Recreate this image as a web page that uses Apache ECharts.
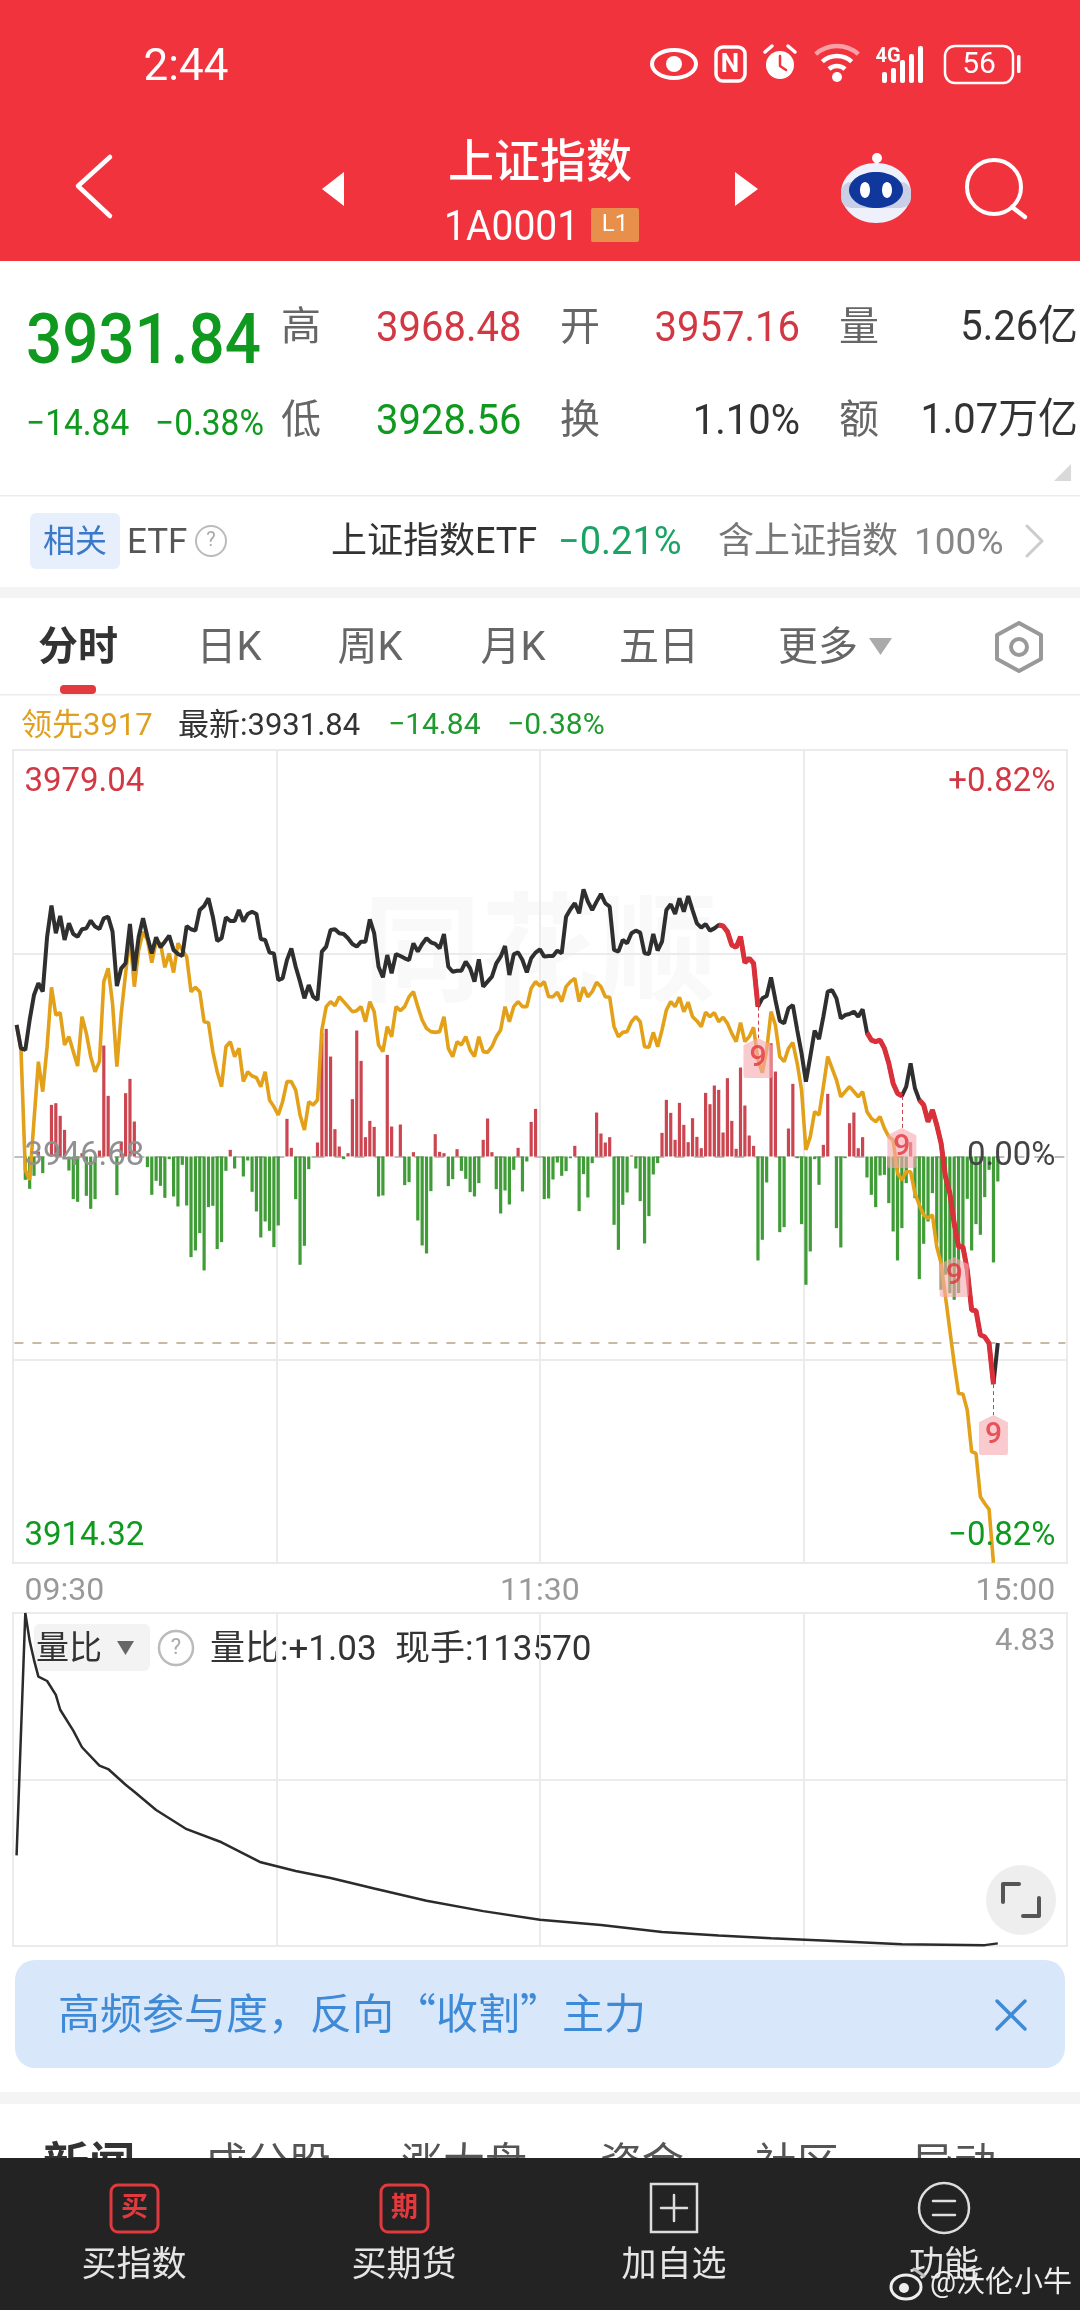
<!DOCTYPE html>
<html>
<head>
<meta charset="utf-8">
<style>html,body{margin:0;padding:0;background:#fff}#main{width:1080px;height:2310px}</style>
<script src="https://cdn.jsdelivr.net/npm/echarts@6/dist/echarts.min.js"></script>
</head>
<body>
<div id="main"></div>
<script>
// index level per minute (09:30 = 0)
var closePrice = [
3957.15,3955.29,3955.16,3957.55,3959.54,3960.47,3959.80,3964.18,3966.65,3964.45,
3965.83,3963.92,3965.24,3964.39,3964.18,3964.77,3964.84,3965.46,3964.98,3964.79,
3965.64,3965.77,3964.58,3960.25,3961.66,3962.06,3965.19,3961.47,3964.18,3965.64,
3964.18,3962.85,3964.13,3963.33,3963.78,3964.26,3963.12,3962.80,3962.64,3965.03,
3964.77,3964.66,3966.30,3966.62,3967.23,3965.77,3963.84,3964.05,3965.72,3965.43,
3965.43,3966.30,3965.38,3965.99,3966.17,3965.99,3964.00,3963.92,3962.91,3962.85,
3960.73,3960.86,3962.32,3963.25,3961.79,3960.60,3959.27,3960.33,3959.40,3959.14,
3962.99,3963.39,3964.71,3964.77,3964.45,3964.39,3964.05,3963.60,3963.39,3963.78,
3963.78,3965.56,3964.45,3961.79,3960.94,3962.72,3961.26,3962.80,3962.64,3962.46,
3962.32,3963.65,3962.99,3963.60,3964.05,3963.73,3963.60,3963.25,3964.39,3961.79,
3961.39,3961.47,3961.47,3962.19,3961.66,3960.60,3962.38,3960.20,3960.60,3961.00,
3962.06,3962.59,3963.44,3961.13,3962.77,3962.93,3962.32,3961.34,3962.46,3962.91,
3963.17,3962.59,3962.64,3962.64,3963.07,3962.85,3965.77,3966.36,3966.84,3966.04,
3967.95,3966.97,3966.30,3966.97,3967.58,3966.84,3966.57,3963.12,3962.99,3963.92,
3963.65,3964.45,3964.66,3964.50,3962.85,3962.80,3964.39,3963.07,3963.78,3966.30,
3966.76,3965.99,3967.23,3966.17,3967.42,3966.30,3965.24,3964.90,3965.19,3964.66,
3964.84,3965.11,3965.03,3964.58,3963.52,3963.33,3964.18,3962.11,3962.46,3962.06,
3958.61,3959.27,3959.46,3960.94,3959.14,3957.49,3957.28,3958.48,3958.74,3956.75,
3954.89,3952.64,3954.63,3956.70,3956.03,3957.81,3959.80,3959.93,3959.27,3957.68,
3957.94,3958.02,3958.21,3957.81,3958.40,3956.54,3955.95,3955.82,3955.95,3955.29,
3954.10,3952.50,3951.71,3951.50,3952.24,3954.10,3952.11,3951.18,3950.78,3949.45,
3950.38,3949.19,3947.73,3945.07,3943.75,3941.36,3939.50,3939.50,3937.64,3934.46,
3934.40,3932.47,3932.33,3931.80,3928.56,3931.84
];
// leading index (领先)
var leadPrice = [
3957.15,3955.29,3945.60,3944.81,3949.58,3954.23,3951.84,3955.42,3960.15,3957.94,
3958.13,3955.56,3956.22,3955.03,3953.88,3957.81,3956.48,3954.63,3953.43,3954.23,
3960.60,3961.66,3958.87,3953.83,3958.08,3961.26,3964.18,3960.20,3963.12,3964.58,
3963.92,3962.11,3963.78,3963.65,3961.74,3962.85,3961.32,3963.65,3963.12,3962.59,
3959.80,3960.15,3959.80,3957.41,3957.33,3955.03,3953.43,3952.24,3955.42,3955.82,
3954.63,3955.29,3952.64,3953.43,3953.09,3952.96,3952.24,3953.43,3951.18,3950.65,
3949.98,3951.04,3952.64,3952.64,3951.97,3949.98,3948.79,3951.04,3950.78,3951.18,
3956.75,3958.61,3959.01,3958.69,3959.40,3959.01,3958.61,3958.21,3958.29,3958.61,
3957.41,3959.01,3958.21,3955.56,3955.03,3957.02,3956.22,3958.61,3958.29,3958.61,
3959.40,3959.80,3958.61,3957.55,3956.88,3956.62,3956.56,3956.62,3957.81,3955.29,
3954.63,3955.82,3955.56,3956.22,3955.16,3954.63,3956.22,3955.03,3954.97,3955.42,
3956.22,3956.75,3958.61,3957.41,3958.61,3959.01,3958.61,3958.61,3960.07,3960.60,
3960.25,3960.60,3959.40,3959.40,3959.75,3959.01,3960.20,3960.60,3960.86,3959.01,
3960.15,3959.40,3959.80,3960.55,3960.20,3959.40,3959.35,3957.02,3956.22,3956.56,
3956.62,3957.41,3957.81,3957.41,3955.42,3955.37,3956.56,3955.42,3956.75,3958.34,
3959.01,3958.61,3959.35,3958.21,3958.95,3957.81,3957.47,3957.02,3958.16,3957.81,
3958.13,3957.41,3957.76,3957.28,3956.48,3955.82,3957.33,3955.82,3956.22,3956.96,
3954.36,3953.35,3955.16,3958.21,3957.15,3954.63,3954.23,3955.29,3955.74,3954.10,
3951.97,3947.20,3948.26,3950.25,3949.98,3952.24,3954.63,3953.70,3952.77,3951.44,
3951.84,3952.24,3951.84,3951.44,3951.84,3950.25,3949.72,3949.45,3949.85,3948.92,
3948.26,3947.99,3945.34,3944.81,3945.47,3945.47,3943.75,3942.82,3942.02,3941.76,
3942.02,3939.50,3938.17,3935.52,3932.86,3930.21,3927.82,3927.77,3926.49,3923.18,
3923.04,3919.59,3919.06,3918.59,3914.34
];
// net volume per minute, unlabelled scale in the picture
var netBars = [
0,0,-70,-97,-58,15,-50,0,155,160,
122,80,-42,-128,-136,10,-118,-157,-128,18,
333,182,0,-116,45,190,233,105,0,0,
-32,-115,-73,-88,-124,-8,-120,-150,-25,-147,
-302,-282,-230,-342,-152,-148,-278,-257,-43,20,
-36,0,-60,-12,-106,-165,-243,-195,-223,-272,
-207,0,113,26,-128,-325,-268,-38,-3,42,
370,383,300,82,30,-8,10,172,378,287,
58,107,89,-120,-117,305,90,0,96,-86,
-77,13,-192,-267,-291,-104,67,14,10,-89,
-68,22,-43,-67,-107,-120,-80,50,114,13,
-98,-171,-102,-144,-40,26,-105,-15,104,143,
0,-128,-126,-69,-18,-58,-44,-5,32,-164,
-53,-123,-20,132,69,42,58,-205,-280,-145,
-108,3,-36,-134,-261,-179,-54,-20,71,170,
131,50,161,95,43,115,59,25,191,157,
213,200,72,235,107,23,267,153,63,32,
-312,-250,-78,340,255,-227,-212,84,218,-5,
-203,-385,-285,-8,-85,35,188,0,-215,-273,
-5,100,132,25,58,-63,-115,-152,-57,-55,
-140,-225,-312,-215,-80,43,-125,-368,-262,-195,
-110,-260,-400,-355,-410,-430,-410,-270,-127,-282,
-203,-235,-122,-40,-318,-75
];
// 量比 curve
var ratioMinute = [0,2,3,4,5,7,9,10,13,15,19,21,25,27,32,39,47,56,64,72,82,94,107,120,134,148,161,173,186,203,222,225];
var ratioValue = [2.05,4.83,4.51,4.29,4.10,4.05,3.89,3.72,3.48,3.29,3.08,3.04,2.86,2.78,2.57,2.35,2.20,1.97,1.87,1.79,1.67,1.53,1.41,1.31,1.25,1.17,1.13,1.10,1.07,1.03,1.02,1.04];
// minutes where the line is drawn red
var signalRanges = [[161,170],[195,203],[207,215],[216,224]];
// "9" tags
var tagMinute = [170,203,215,224];
var tagPrice = [3954.52,3947.36,3937.09,3924.50];
var tagLeader = [true,true,false,true];

var timeLabels = {0:'09:30',120:'11:30',240:'15:00'};
var priceTicks = [3914.32,3946.68,3979.04];
var priceLabels = ['3914.32','3946.68','3979.04'];
var pctTicks = [-0.82,0,0.82];
var pctLabels = ['−0.82%','0.00%','+0.82%'];

var FONT = 'Roboto, "Noto Sans CJK SC", sans-serif';
var CJK = '"Noto Sans CJK SC", sans-serif';
var RED = '#d23843', GREEN = '#0f991f', GREY = '#919191', DARK = '#333333';

var minutes = [];
for (var m = 0; m <= 240; m++) minutes.push(m);

var signalData = closePrice.map(function (v, i) {
  return signalRanges.some(function (r) { return i >= r[0] && i <= r[1]; }) ? v : null;
});
var leaders = [];
tagMinute.forEach(function (m, i) {
  if (tagLeader[i]) leaders.push([{ coord: [m, closePrice[m]] }, { coord: [m, tagPrice[i] + 1.6] }]);
});

// ---- page furniture
var g = [];
// y is where the middle of the glyphs should sit, text baseline box runs a bit high
function txt(x, y, s, size, color, align, weight, sx, family) {
  g.push({ type: 'text', x: x, y: y + size * 0.09, scaleX: sx || 1, style: { text: s, font: (weight || 400) + ' ' + size + 'px ' + (family || FONT), fill: color, textAlign: align || 'left', textVerticalAlign: 'middle' } });
}
// text sitting inside a badge or icon
function badge(x, y, s, size, color, weight) {
  g.push({ type: 'text', x: x, y: y, style: { text: s, font: (weight || 400) + ' ' + size + 'px ' + FONT, fill: color, textAlign: 'center', textVerticalAlign: 'middle' } });
}
function rect(x, y, w, h, fill, r, stroke, lw) {
  g.push({ type: 'rect', shape: { x: x, y: y, width: w, height: h, r: r || 0 }, style: { fill: fill || 'none', stroke: stroke || 'none', lineWidth: lw || 0 } });
}
function circ(x, y, r, fill, stroke, lw) {
  g.push({ type: 'circle', shape: { cx: x, cy: y, r: r }, style: { fill: fill || 'none', stroke: stroke || 'none', lineWidth: lw || 0 } });
}
function pline(pts, stroke, lw) {
  g.push({ type: 'polyline', shape: { points: pts }, style: { fill: 'none', stroke: stroke, lineWidth: lw, lineCap: 'round', lineJoin: 'round' } });
}
function pgon(pts, fill) {
  g.push({ type: 'polygon', shape: { points: pts }, style: { fill: fill } });
}

// watermark behind the plot
txt(540, 952, '同花顺', 118, 'rgba(0,0,0,0.022)', 'center', 700);

// header
rect(0, 0, 1080, 261, '#f1333e');
txt(186, 65, '2:44', 44, '#fff', 'center');
g.push({ type: 'ellipse', shape: { cx: 674, cy: 64, rx: 22, ry: 14 }, style: { fill: 'none', stroke: '#fff', lineWidth: 4 } });
circ(674, 64, 8, '#fff');
rect(716, 47, 29, 34, 'none', 7, '#fff', 3.5);
badge(730, 65, 'N', 26, '#fff', 700);
circ(780, 65, 14, '#fff');
pline([[780, 56], [780, 66], [786, 70]], '#f1333e', 2.5);
pline([[765, 52], [772, 46]], '#fff', 3.5);
pline([[788, 46], [795, 52]], '#fff', 3.5);
g.push({ type: 'arc', shape: { cx: 837, cy: 78, r: 32, startAngle: -2.3, endAngle: -0.84 }, style: { fill: 'none', stroke: '#f8a0a6', lineWidth: 4.5 } });
g.push({ type: 'arc', shape: { cx: 837, cy: 78, r: 22, startAngle: -2.3, endAngle: -0.84 }, style: { fill: 'none', stroke: '#fff', lineWidth: 4.5 } });
g.push({ type: 'arc', shape: { cx: 837, cy: 78, r: 12, startAngle: -2.3, endAngle: -0.84 }, style: { fill: 'none', stroke: '#fff', lineWidth: 4.5 } });
circ(837, 77, 5, '#fff');
badge(888, 57, '4G', 20, '#fff', 700);
[[882, 72, 11], [891, 68, 15], [900, 60, 23], [909, 54, 29], [918, 46, 37]].forEach(function (b) { rect(b[0], b[1], 5, b[2], '#fff', 2); });
rect(945, 46, 68, 37, 'none', 10, '#fff', 2.5);
badge(979, 65, '56', 30, '#fff');
rect(1017, 55, 3.5, 18, '#fff', 1.5);

pline([[110, 157], [78, 186], [110, 216]], '#fff', 4.5);
pgon([[344, 172], [322, 189], [344, 206]], '#fff');
pgon([[735, 172], [758, 189], [735, 206]], '#fff');
txt(540, 161, '上证指数', 46, '#fff', 'center', 500);
txt(444, 226, '1A0001', 42, '#fff', 'left', 400, 0.93);
rect(591, 208, 48, 34, '#e88f4b', 2);
badge(615, 225, 'L1', 24, '#fff');
// robot
circ(877, 158, 5, '#fff');
pline([[877, 158], [876, 170]], '#fff', 4);
g.push({ type: 'ellipse', shape: { cx: 876, cy: 193, rx: 35, ry: 30 }, style: { fill: '#eef1fb' } });
rect(841, 182, 70, 26, '#c8cfe6', 10);
g.push({ type: 'ellipse', shape: { cx: 876, cy: 190, rx: 27, ry: 18 }, style: { fill: '#10379c' } });
g.push({ type: 'ellipse', shape: { cx: 865, cy: 190, rx: 5, ry: 8 }, style: { fill: '#fff' } });
g.push({ type: 'ellipse', shape: { cx: 887, cy: 190, rx: 5, ry: 8 }, style: { fill: '#fff' } });
circ(994, 187, 27, 'none', '#fff', 4);
pline([[1012, 207], [1025, 217]], '#fff', 4.5);

// quote block
txt(26, 339, '3931.84', 70, GREEN, 'left', 500, 0.91);
txt(26, 423, '−14.84', 36, GREEN, 'left', 400, 0.93);
txt(155, 423, '−0.38%', 36, GREEN, 'left', 400, 0.93);
var quoteRows = [
  [326, '高', '3968.48', RED, '开', '3957.16', RED, '量', '5.26亿'],
  [419, '低', '3928.56', GREEN, '换', '1.10%', DARK, '额', '1.07万亿']
];
quoteRows.forEach(function (r) {
  txt(301, r[0], r[1], 40, '#666', 'center');
  txt(376, r[0], r[2], 43, r[3], 'left', 400, 0.93);
  txt(580, r[0], r[4], 40, '#666', 'center');
  txt(800, r[0], r[5], 43, r[6], 'right', 400, 0.93);
  txt(859, r[0], r[7], 40, '#666', 'center');
  txt(1078, r[0], r[8], 42, DARK, 'right', 400, 0.95);
});
pgon([[1054, 481], [1071, 481], [1071, 464]], '#d9d9d9');
rect(0, 495, 1080, 1.5, '#ececec');

// ETF strip
rect(30, 513, 90, 56, '#e6effb', 6);
txt(75, 541, '相关', 32, '#3a78c9', 'center');
txt(127, 541, 'ETF', 35, '#555');
circ(211, 541, 15, 'none', '#bbb', 2);
badge(211, 541, '?', 20, '#aaa');
txt(331, 541, '上证指数ETF', 36, DARK);
txt(558, 541, '−0.21%', 38, '#1aa365');
txt(718, 541, '含上证指数', 36, '#777');
txt(914, 541, '100%', 37, '#888');
pline([[1027, 526], [1042, 541], [1027, 556]], '#ccc', 3);
rect(0, 587, 1080, 11, '#f4f4f4');

// period tabs
txt(78, 646, '分时', 40, DARK, 'center', 700);
[[229, '日K'], [370, '周K'], [513, '月K'], [659, '五日'], [818, '更多']].forEach(function (t) { txt(t[0], 646, t[1], 40, '#666', 'center'); });
pgon([[869, 638], [892, 638], [880.5, 655]], '#aaa');
pline([[1019, 623], [1041, 635], [1041, 659], [1019, 671], [997, 659], [997, 635], [1019, 623]], '#999', 4);
circ(1019, 647, 8, 'none', '#999', 4);
rect(60, 685, 36, 9, '#e23a3f', 4);
rect(0, 694, 1080, 1.5, '#ececec');

// info row
txt(21, 724, '领先3917', 31, '#e09f1f');
txt(178, 724, '最新:3931.84', 31, DARK);
txt(388, 724, '−14.84', 30, '#1f9a2f');
txt(507, 724, '−0.38%', 30, '#1f9a2f');

// volume ratio head
rect(34, 1624, 116, 47, '#f3f3f3', 6);
txt(36, 1648, '量比', 33, DARK);
pgon([[117, 1641], [134, 1641], [125.5, 1655]], '#666');
circ(176, 1648, 17, 'none', '#bbb', 2.5);
badge(176, 1648, '?', 22, '#aaa');
txt(210, 1648, '量比:+1.03', 35, DARK);
txt(395, 1648, '现手:113570', 35, DARK);
circ(1021, 1900, 35, '#eeeeee');
pline([[1003, 1902], [1003, 1884], [1019, 1884]], '#555', 4);
pline([[1023, 1916], [1039, 1916], [1039, 1898]], '#555', 4);

// banner
rect(15, 1960, 1050, 108, '#d8e7fa', 20);
txt(58, 2009, '高频参与度，反向“收割”主力', 42, '#3f8ad6', 'left', 400, 1, CJK);
pline([[997, 2001], [1025, 2029]], '#3f8ad6', 3.5);
pline([[1025, 2001], [997, 2029]], '#3f8ad6', 3.5);
rect(0, 2092, 1080, 12, '#f4f4f4');

// news tabs, cut off by the nav bar
txt(89, 2164, '新闻', 46, DARK, 'center', 700);
[[268, '成分股'], [464, '涨大盘'], [642, '资金'], [797, '社区'], [954, '异动']].forEach(function (t) { txt(t[0], 2164, t[1], 42, '#555', 'center'); });

// nav bar
rect(0, 2158, 1080, 152, '#232323');
rect(111, 2185, 47, 47, 'none', 7, '#e03a3f', 3);
badge(134.5, 2209, '买', 27, '#e03a3f', 700);
rect(381, 2185, 47, 47, 'none', 7, '#e03a3f', 3);
badge(404.5, 2209, '期', 27, '#e03a3f', 700);
rect(651, 2184, 46, 48, 'none', 0, '#dddddd', 2.5);
pline([[674, 2195], [674, 2221]], '#ddd', 2.5);
pline([[661, 2208], [687, 2208]], '#ddd', 2.5);
circ(944, 2208, 25, 'none', '#ddd', 2.5);
pline([[933, 2201], [955, 2201]], '#ddd', 2.5);
pline([[933, 2215], [955, 2215]], '#ddd', 2.5);
[[134, '买指数'], [404, '买期货'], [674, '加自选'], [944, '功能']].forEach(function (t) { txt(t[0], 2264, t[1], 35, '#e5e5e5', 'center'); });
// weibo credit
g.push({ type: 'ellipse', shape: { cx: 906, cy: 2287, rx: 15, ry: 12 }, style: { fill: 'none', stroke: '#eeeeee', lineWidth: 3 } });
circ(904, 2288, 5, '#eeeeee');
pline([[914, 2269], [924, 2276]], '#bbbbbb', 3);
txt(930, 2282, '@沃伦小牛', 29, '#eeeeee');

// ---- chart
var frameX = { type: 'category', boundaryGap: false, data: [0, 1, 2, 3, 4], axisLine: { show: false }, axisTick: { show: false }, axisLabel: { show: false },
  splitLine: { show: true, lineStyle: { color: '#ebebeb', width: 2 } } };

var chart = echarts.init(document.getElementById('main'), null, { renderer: 'canvas', width: 1080, height: 2310 });
chart.setOption({
  animation: false,
  backgroundColor: '#fff',
  graphic: { elements: g },
  grid: [
    { left: 13, top: 750, width: 1054, height: 813, show: true, borderColor: '#e8e8e8', borderWidth: 2 },
    { left: 14.4, top: 750, width: 1051, height: 813 },
    { left: 13, top: 1613, width: 1054, height: 333, show: true, borderColor: '#e8e8e8', borderWidth: 2 },
    { left: 14.4, top: 1613, width: 1051, height: 333 }
  ],
  xAxis: [
    Object.assign({ gridIndex: 0 }, frameX),
    { gridIndex: 1, type: 'category', data: minutes, z: 7,
      axisLine: { show: false }, axisTick: { show: false }, splitLine: { show: false },
      axisLabel: { show: true, customValues: [0, 120, 240], margin: 13, fontFamily: FONT, fontSize: 32, color: '#999',
        padding: [0, 8, 0, 8], alignMinLabel: 'left', alignMaxLabel: 'right',
        formatter: function (v) { return timeLabels[v] || ''; } } },
    Object.assign({ gridIndex: 2 }, frameX),
    { gridIndex: 3, type: 'category', data: minutes, axisLine: { show: false }, axisTick: { show: false }, axisLabel: { show: false }, splitLine: { show: false } }
  ],
  yAxis: [
    { gridIndex: 0, type: 'category', boundaryGap: false, data: [0, 1, 2, 3, 4], axisLine: { show: false }, axisTick: { show: false }, axisLabel: { show: false },
      splitLine: { show: true, interval: function (i) { return i !== 2; }, lineStyle: { color: '#ebebeb', width: 2 } } },
    { gridIndex: 1, type: 'value', min: 3914.32, max: 3979.04, zlevel: 1, z: 7, position: 'left',
      axisLine: { show: false }, axisTick: { show: false }, splitLine: { show: false },
      axisLabel: { inside: true, customValues: priceTicks, margin: 10, fontFamily: FONT, fontSize: 33,
        verticalAlignMinLabel: 'bottom', verticalAlignMaxLabel: 'top', padding: [16, 0, 10, 0],
        color: function (v) { return v > 3946.68 ? RED : v < 3946.68 ? GREEN : GREY; },
        formatter: function (v) { return priceLabels[priceTicks.indexOf(v)]; } } },
    { gridIndex: 1, type: 'value', min: -0.82, max: 0.82, zlevel: 1, z: 7, position: 'right',
      axisLine: { show: false }, axisTick: { show: false }, splitLine: { show: false },
      axisLabel: { inside: true, customValues: pctTicks, margin: 10, fontFamily: FONT, fontSize: 33,
        verticalAlignMinLabel: 'bottom', verticalAlignMaxLabel: 'top', padding: [16, 0, 10, 0],
        color: function (v) { return v > 0 ? RED : v < 0 ? GREEN : '#444'; },
        formatter: function (v) { return pctLabels[pctTicks.indexOf(v)]; } } },
    { gridIndex: 1, type: 'value', min: -1220, max: 1220, show: false, splitLine: { show: false } },
    { gridIndex: 2, type: 'category', boundaryGap: false, data: [0, 1, 2], axisLine: { show: false }, axisTick: { show: false }, axisLabel: { show: false },
      splitLine: { show: true, lineStyle: { color: '#ebebeb', width: 2 } } },
    { gridIndex: 3, type: 'value', min: 1.01, max: 4.83, z: 7, position: 'right',
      axisLine: { show: false }, axisTick: { show: false }, splitLine: { show: false },
      axisLabel: { inside: true, customValues: [1.01, 4.83], margin: 10, fontFamily: FONT, fontSize: 31, color: '#999',
        verticalAlignMinLabel: 'bottom', verticalAlignMaxLabel: 'top', padding: [14, 0, 0, 0],
        formatter: function (v) { return v > 4 ? v.toFixed(2) : ''; } } }
  ],
  series: [
    { name: 'net', type: 'bar', xAxisIndex: 1, yAxisIndex: 3, barWidth: 3.2, z: 2, silent: true,
      data: netBars.map(function (v) {
        return { value: v, itemStyle: { color: v >= 0 ? '#cb4650' : '#3f9c36' } };
      }),
      markLine: { silent: true, symbol: 'none', label: { show: false }, z: 1,
        lineStyle: { color: '#aaaaaa', type: [10, 10], width: 1.5 }, data: [{ yAxis: 0 }] } },
    { name: 'lead', type: 'line', xAxisIndex: 1, yAxisIndex: 1, data: leadPrice, showSymbol: false, z: 3, silent: true,
      lineStyle: { color: '#e3a019', width: 3.6 } },
    { name: 'close', type: 'line', xAxisIndex: 1, yAxisIndex: 1, data: closePrice, showSymbol: false, z: 4, silent: true,
      lineStyle: { color: '#2f2f2f', width: 4 },
      markLine: { silent: true, symbol: 'none', label: { show: false },
        lineStyle: { color: '#b5a486', type: [9, 9], width: 1.5 }, data: [{ yAxis: closePrice[closePrice.length - 1] }] } },
    { name: 'signal', type: 'line', xAxisIndex: 1, yAxisIndex: 1, data: signalData, showSymbol: false, connectNulls: false, z: 5, silent: true,
      lineStyle: { color: '#d9303a', width: 5 } },
    { name: 'tags', type: 'scatter', xAxisIndex: 1, yAxisIndex: 1, z: 6, silent: true,
      data: tagMinute.map(function (m, i) { return [m, tagPrice[i]]; }),
      symbol: 'path://M50 0 L100 18 L100 94 Q100 100 94 100 L6 100 Q0 100 0 94 L0 18 Z',
      symbolSize: [29, 40], symbolKeepAspect: false,
      itemStyle: { color: 'rgba(246,170,176,0.78)' },
      label: { show: true, position: 'inside', formatter: '9', color: '#e3343c', fontSize: 30, fontFamily: FONT, fontWeight: 500 },
      markLine: { silent: true, symbol: 'none', label: { show: false },
        lineStyle: { color: '#c4434c', type: [4, 3], width: 1 }, data: leaders } },
    { name: 'ratio', type: 'line', xAxisIndex: 3, yAxisIndex: 5, showSymbol: false, z: 3, silent: true,
      data: ratioMinute.map(function (m, i) { return [m, ratioValue[i]]; }),
      lineStyle: { color: '#2b2b2b', width: 2.5 } }
  ]
});
</script>
</body>
</html>
